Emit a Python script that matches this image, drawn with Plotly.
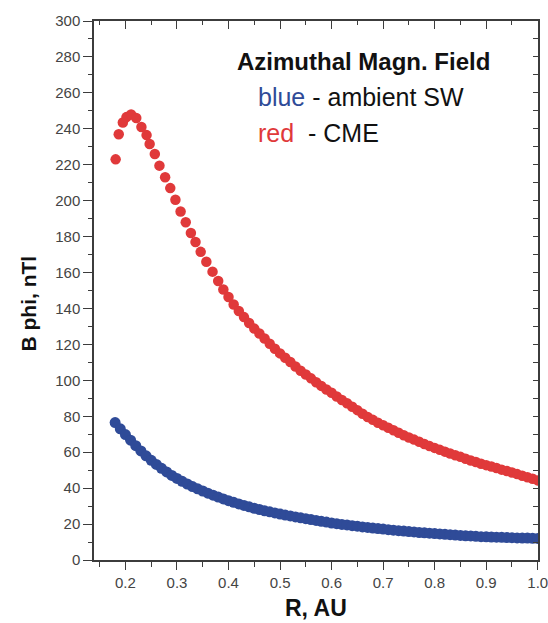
import plotly.graph_objects as go

# CME (red) azimuthal field, nT
r_cme = [0.181, 0.187, 0.195, 0.202, 0.211, 0.221, 0.231, 0.241, 0.247, 0.257,
         0.266, 0.277, 0.287, 0.297, 0.307, 0.317, 0.327, 0.336, 0.346, 0.357,
         0.369, 0.38, 0.39, 0.40, 0.41, 0.42, 0.43, 0.44, 0.45, 0.46,
         0.47, 0.48, 0.49, 0.50, 0.51, 0.52, 0.53, 0.54, 0.55, 0.56,
         0.57, 0.58, 0.59, 0.60, 0.61, 0.62, 0.63, 0.64, 0.65, 0.66,
         0.67, 0.68, 0.69, 0.70, 0.71, 0.72, 0.73, 0.74, 0.75, 0.76,
         0.77, 0.78, 0.79, 0.80, 0.81, 0.82, 0.83, 0.84, 0.85, 0.86,
         0.87, 0.88, 0.89, 0.90, 0.91, 0.92, 0.93, 0.94, 0.95, 0.96,
         0.97, 0.98, 0.99, 1.00]
b_cme = [223.0, 237.0, 243.5, 246.5, 248.0, 246.0, 241.0, 236.5, 231.5, 226.0,
         219.5, 213.0, 207.0, 200.5, 194.0, 188.0, 182.0, 177.0, 171.5, 166.0,
         160.5, 155.3, 150.6, 146.4, 142.2, 138.6, 135.2, 131.9, 128.8, 126.1,
         123.3, 120.4, 117.6, 115.0, 112.6, 110.2, 107.7, 105.3, 103.2, 101.1,
         98.9, 96.9, 94.9, 93.1, 91.0, 89.1, 87.2, 85.3, 83.4, 81.4,
         79.6, 78.0, 76.4, 75.0, 73.6, 72.2, 70.8, 69.4, 68.2, 67.0,
         65.8, 64.6, 63.4, 62.4, 61.3, 60.3, 59.3, 58.3, 57.4, 56.4,
         55.4, 54.5, 53.6, 52.8, 52.0, 51.2, 50.3, 49.5, 48.7, 47.8,
         46.9, 46.1, 45.2, 44.3]

# ambient solar wind (blue)
r_sw = [0.18, 0.19, 0.20, 0.21, 0.22, 0.23, 0.24, 0.25, 0.26, 0.27,
        0.28, 0.29, 0.30, 0.31, 0.32, 0.33, 0.34, 0.35, 0.36, 0.37,
        0.38, 0.39, 0.40, 0.41, 0.42, 0.43, 0.44, 0.45, 0.46, 0.47,
        0.48, 0.49, 0.50, 0.51, 0.52, 0.53, 0.54, 0.55, 0.56, 0.57,
        0.58, 0.59, 0.60, 0.61, 0.62, 0.63, 0.64, 0.65, 0.66, 0.67,
        0.68, 0.69, 0.70, 0.71, 0.72, 0.73, 0.74, 0.75, 0.76, 0.77,
        0.78, 0.79, 0.80, 0.81, 0.82, 0.83, 0.84, 0.85, 0.86, 0.87,
        0.88, 0.89, 0.90, 0.91, 0.92, 0.93, 0.94, 0.95, 0.96, 0.97,
        0.98, 0.99, 1.00]
b_sw = [76.5, 73.0, 69.8, 66.7, 63.6, 60.7, 58.0, 55.5, 53.2, 51.0,
        49.0, 47.1, 45.4, 43.8, 42.3, 40.9, 39.6, 38.4, 37.2, 36.1,
        35.0, 34.0, 33.0, 32.1, 31.2, 30.4, 29.6, 28.8, 28.1, 27.4,
        26.8, 26.2, 25.6, 25.0, 24.5, 24.0, 23.5, 23.0, 22.5, 22.0,
        21.5, 21.1, 20.6, 20.2, 19.8, 19.5, 19.1, 18.8, 18.4, 18.1,
        17.8, 17.5, 17.2, 16.9, 16.6, 16.3, 16.1, 15.8, 15.6, 15.3,
        15.1, 14.9, 14.7, 14.5, 14.3, 14.1, 13.9, 13.7, 13.5, 13.4,
        13.2, 13.0, 12.9, 12.8, 12.7, 12.6, 12.5, 12.4, 12.3, 12.2,
        12.2, 12.1, 12.0]

RED = "#e0393a"
BLUE = "#2f4b98"
AX = "#3c3c3c"
FONT = "Liberation Sans, Arial, sans-serif"

fig = go.Figure()
fig.add_trace(go.Scatter(x=r_sw, y=b_sw, mode="markers",
                         marker=dict(color=BLUE, size=11, line=dict(width=0)),
                         showlegend=False))
fig.add_trace(go.Scatter(x=r_cme, y=b_cme, mode="markers",
                         marker=dict(color=RED, size=10.5, line=dict(width=0)),
                         showlegend=False))
# dummy trace for mirrored axes
fig.add_trace(go.Scatter(x=[None], y=[None], xaxis="x2", yaxis="y2",
                         showlegend=False, hoverinfo="skip"))

xr = [0.139, 1.0005]
yr = [0, 300]

fig.update_layout(
    width=548, height=623,
    margin=dict(l=94, r=10, t=21, b=63, autoexpand=False),
    paper_bgcolor="white", plot_bgcolor="white",
    font=dict(family=FONT, color="#222"),
    xaxis=dict(range=xr, tick0=0, dtick=0.1, tickformat=".1f", automargin=False,
               ticks="outside", ticklen=8, tickwidth=1, tickcolor=AX,
               showline=True, linecolor=AX, linewidth=1.5,
               showgrid=False, zeroline=False, ticklabeloverflow="allow",
               tickfont=dict(size=15, color="#444"),
               minor=dict(tick0=0, dtick=0.05, ticks="outside", ticklen=5,
                          tickcolor=AX, tickwidth=1)),
    yaxis=dict(range=yr, tick0=0, dtick=20, automargin=False,
               ticks="outside", ticklen=9, tickwidth=1, tickcolor=AX,
               showline=True, linecolor=AX, linewidth=1.5,
               showgrid=False, zeroline=False,
               tickfont=dict(size=15, color="#444"),
               minor=dict(tick0=0, dtick=10, ticks="outside", ticklen=4,
                          tickcolor=AX, tickwidth=1)),
    xaxis2=dict(range=xr, overlaying="x", side="top", tick0=0, dtick=0.1,
                automargin=False,
                ticks="inside", ticklen=8, tickwidth=1, tickcolor=AX,
                showticklabels=False, showline=True, linecolor=AX, linewidth=1.5,
                showgrid=False, zeroline=False,
                minor=dict(tick0=0, dtick=0.05, ticks="inside", ticklen=4,
                           tickcolor=AX, tickwidth=1)),
    yaxis2=dict(range=yr, overlaying="y", side="right", tick0=0, dtick=10,
                automargin=False,
                ticks="inside", ticklen=5, tickwidth=1, tickcolor=AX,
                showticklabels=False, showline=True, linecolor=AX, linewidth=1.5,
                showgrid=False, zeroline=False),
)

ann = []
ann.append(dict(text="<b>B phi, nTl</b>", textangle=-90, xref="paper", yref="paper",
                x=-0.1475, y=0.475, xanchor="center", yanchor="middle",
                showarrow=False, font=dict(size=21, color="#111")))
ann.append(dict(text="<b>R, AU</b>", xref="paper", yref="paper",
                x=0.5, y=-0.089, xanchor="center", yanchor="middle",
                showarrow=False, font=dict(size=23, color="#111")))
ann.append(dict(text="<b>Azimuthal Magn. Field</b>", xref="paper", yref="paper",
                x=0.318, y=0.924, xanchor="left", yanchor="middle",
                showarrow=False, font=dict(size=24, color="#111")))
ann.append(dict(text=f"<span style='color:{BLUE}'>blue</span> - ambient SW",
                xref="paper", yref="paper", x=0.365, y=0.859,
                xanchor="left", yanchor="middle",
                showarrow=False, font=dict(size=25, color="#111")))
ann.append(dict(text=f"<span style='color:{RED}'>red</span>&nbsp;&nbsp;- CME",
                xref="paper", yref="paper", x=0.365, y=0.792,
                xanchor="left", yanchor="middle",
                showarrow=False, font=dict(size=25, color="#111")))
fig.update_layout(annotations=ann)

fig.write_html("out.html")
